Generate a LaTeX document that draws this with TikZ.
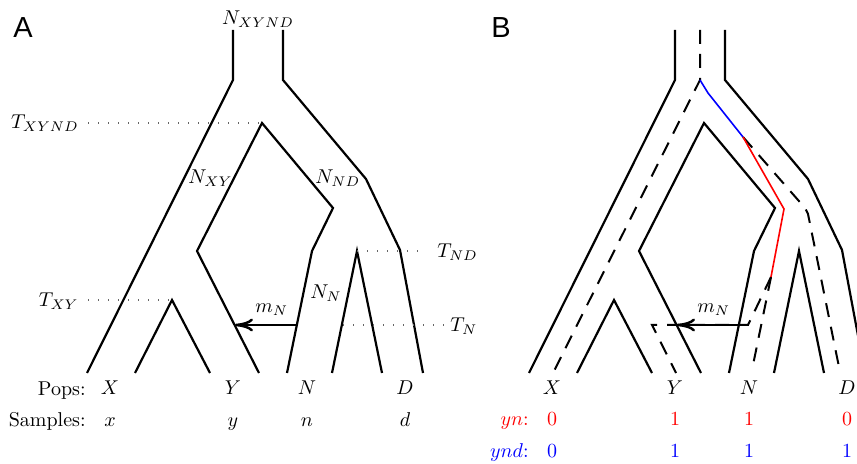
\documentclass[tikz,border=0pt]{standalone}
\usepackage{fontspec}
\usepackage{amsmath}
\usepackage{xcolor}
\usepackage{tikz}
\usetikzlibrary{arrows.meta}
\newfontfamily\panelfont{Liberation Sans}
\definecolor{ynred}{HTML}{FF0000}
\definecolor{yndblue}{HTML}{0000FF}
\definecolor{guide}{HTML}{666666}

\begin{document}
\begin{tikzpicture}[x=0.5pt,y=-0.5pt,font=\normalsize,
  lbl/.style={inner sep=0pt},
  branch/.style={line width=1.1pt,line join=miter},
  lineage/.style={line width=1pt,dash pattern=on 7pt off 5pt},
  guideline/.style={guide,line width=0.6pt,dash pattern=on 0.6pt off 4.4pt},
  migr/.style={line width=1.25pt,-{To[length=9pt,width=6.5pt]}}]

  % canvas
  \useasboundingbox (0,0) rectangle (857,464);
  \clip (0,0) rectangle (857,464);

  % panel letters
  \foreach \p/\x in {A/23,B/501}
    \node[lbl,font=\panelfont\fontsize{14.5}{15}\selectfont] (\p) at (\x,28) {\p};

  % both panels share the population tree
  \foreach \s/\p in {0/A,442/B}{
    \begin{scope}[shift={(\s,0)}]
      % ancestral population XYND
      \draw[branch] (233,30) -- (233,80) -- (87,373);
      \draw[branch] (283,30) -- (283,80) -- (366,179) -- (400,250) -- (423,373);

      % split into XY and ND
      \draw[branch] (259,373) -- (197,251) -- (262,123) -- (333,208)
        -- (312,251) -- (287,373);

      % split of XY, split of ND
      \draw[branch] (135,373) -- (172,300) -- (210,373);
      \draw[branch] (332,373) -- (357,251) -- (382,373);

      % migration N -> Y
      \coordinate (\p mfrom) at (297,325);
      \coordinate (\p mto) at (235,325);
      \draw[migr] (\p mfrom) -- (\p mto);
      \node[lbl,anchor=base west] (\p mN) at (255,313) {$m_N$};

      % populations
      \foreach \x/\q in {110/X,233/Y,307/N,405/D}
        \node[lbl,anchor=base] (\p pop\q) at (\x,395) {$\q$};
    \end{scope}
  }

  % panel A: times and sizes
  \node[lbl,anchor=base] (NXYND) at (258,25) {$N_{XYND}$};
  \node[lbl,anchor=base west] (NXY) at (188,184) {$N_{XY}$};
  \node[lbl,anchor=base west] (NND) at (315,184) {$N_{ND}$};
  \node[lbl,anchor=base west] (NN) at (310,299) {$N_N$};

  \node[lbl,anchor=base east] (TXYND) at (79,129) {$T_{XYND}$};
  \draw[guideline] (88,123) -- (262,123);
  \node[lbl,anchor=base east] (TXY) at (79,307) {$T_{XY}$};
  \draw[guideline] (88,300) -- (172,300);
  \node[lbl,anchor=base west] (TND) at (437,258) {$T_{ND}$};
  \draw[guideline] (357,251) -- (425,251);
  \node[lbl,anchor=base west] (TN) at (450,332) {$T_N$};
  \draw[guideline] (343,325) -- (444,325);

  % panel A: rows
  \node[lbl,anchor=base east] (pops) at (86,396) {Pops:};
  \node[lbl,anchor=base east] (samples) at (86,427) {Samples:};
  \foreach \x/\q in {110/x,233/y,307/n,405/d}
    \node[lbl,anchor=base] (smp\q) at (\x,427) {$\q$};

  % panel B: gene lineages
  \draw[lineage] (700,30) -- (700,80) -- (553,373);
  \draw[lineage] (743,137) -- (805,208) -- (808,214) -- (840,372);
  \draw[lineage] (771,277) -- (752,370);
  \draw[lineage] (771,277) -- (748,325) -- (652,325) -- (676,373);
  \draw[yndblue,line width=0.8pt] (700,80) -- (708,93) -- (743,137);
  \draw[ynred,line width=0.8pt] (743,137) -- (784,209) -- (771,277);

  % panel B: rows
  \node[lbl,anchor=base east,ynred] (yn) at (529,426) {$yn$:};
  \node[lbl,anchor=base east,yndblue] (ynd) at (529,458) {$ynd$:};
  \foreach \x/\a/\b in {552/0/0,675/1/1,749/1/1,847/0/1}{
    \node[lbl,anchor=base,ynred] (yn\x) at (\x,426) {\a};
    \node[lbl,anchor=base,yndblue] (ynd\x) at (\x,458) {\b};
  }

\end{tikzpicture}
\end{document}
